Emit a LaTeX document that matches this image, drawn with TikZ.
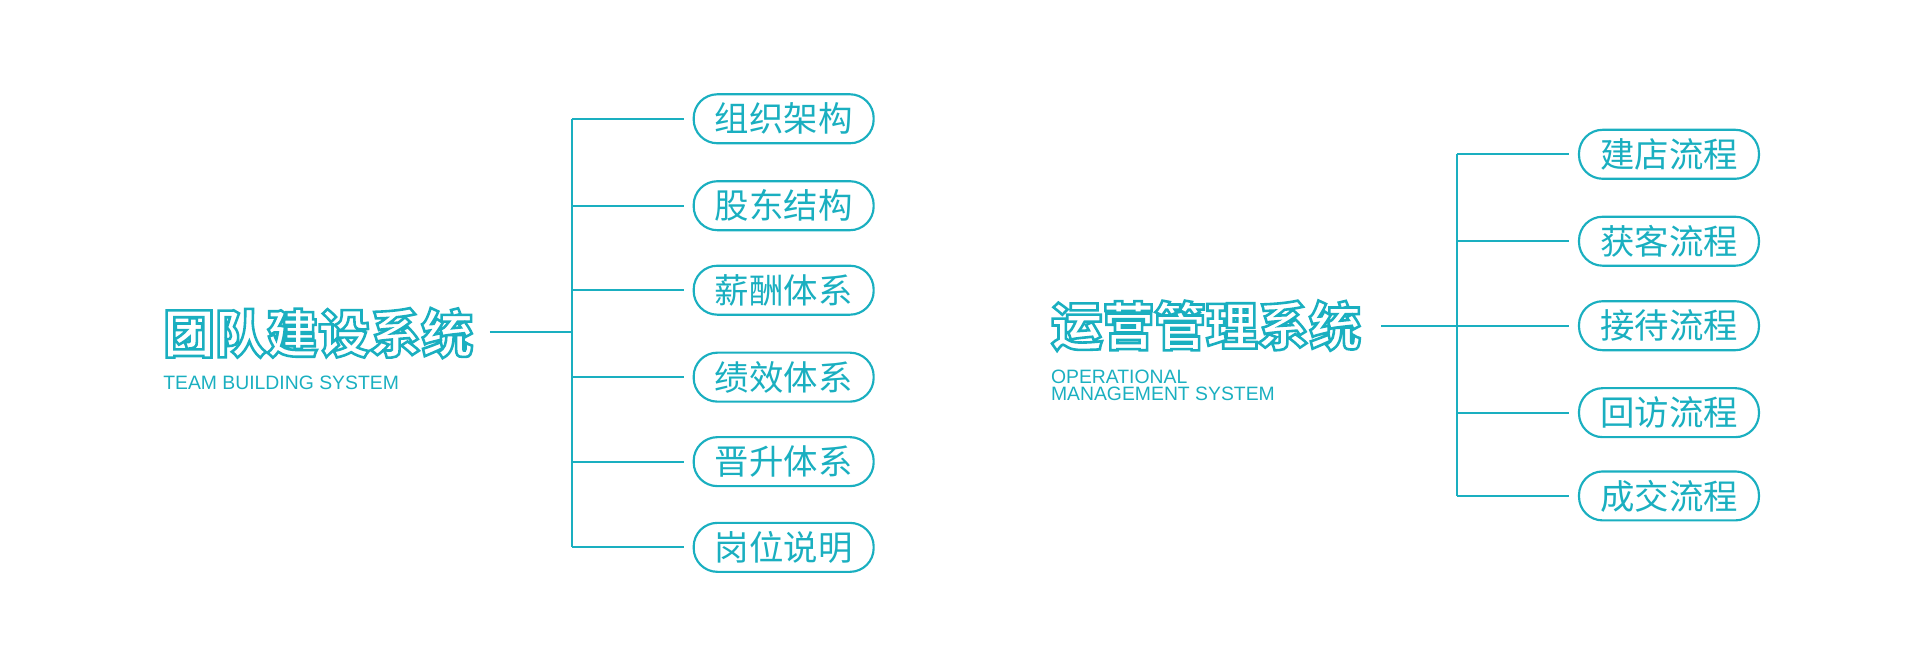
\documentclass[tikz,border=0pt]{standalone}
\usepackage{fontspec}
\setmainfont{Liberation Sans}
\newfontfamily\cjk{Noto Sans CJK SC}
\newfontfamily\cjkbold{Noto Sans CJK SC Black}
\usetikzlibrary{positioning}
\definecolor{teal1}{HTML}{1AAFC0}
\newcommand{\hollow}[1]{\special{pdf:code q 1 Tr 1.2 w}#1\special{pdf:code Q}}

\begin{document}
\begin{tikzpicture}[x=0.02cm,y=-0.02cm,
	item/.style = {draw=teal1, line width=1pt, rounded corners=11pt, minimum width=2.94cm, minimum height=0.8cm, inner sep=0pt, font=\cjk\fontsize{16}{16}\selectfont, text=teal1},
	title/.style = {font=\cjkbold\fontsize{24}{24}\selectfont, text=teal1, inner sep=0pt, anchor=west},
	sub/.style = {font=\fontsize{9}{10}\selectfont, text=teal1, inner sep=0pt, anchor=north west, align=left},
	link/.style = {draw=teal1, line width=0.9pt}]
	\useasboundingbox (0,0) rectangle (1568,544);

	% left tree
	\node[title] (t1) at (133,272) {\hollow{团队建设系统}};
	\node[sub] (s1) at (133,307) {TEAM BUILDING SYSTEM};
	\draw[link] (400,271) -- (467,271);
	\draw[link] (467,97) -- (467,447);
	\foreach \y/\txt [count=\i] in {97/组织架构,168/股东结构,237/薪酬体系,308/绩效体系,377/晋升体系,447/岗位说明}{
		\node[item] (a\i) at (640,\y) {\txt};
		\draw[link] (467,\y) -- ([xshift=-0.14cm]a\i.west);
	}

	% right tree
	\node[title] (t2) at (858,266) {\hollow{运营管理系统}};
	\node[sub] (s2) at (858,302) {OPERATIONAL\\[-2pt]MANAGEMENT SYSTEM};
	\draw[link] (1128,266) -- (1190,266);
	\draw[link] (1190,126) -- (1190,405);
	\foreach \y/\txt [count=\i] in {126/建店流程,197/获客流程,266/接待流程,337/回访流程,405/成交流程}{
		\node[item] (b\i) at (1363,\y) {\txt};
		\draw[link] (1190,\y) -- ([xshift=-0.14cm]b\i.west);
	}
\end{tikzpicture}
\end{document}
